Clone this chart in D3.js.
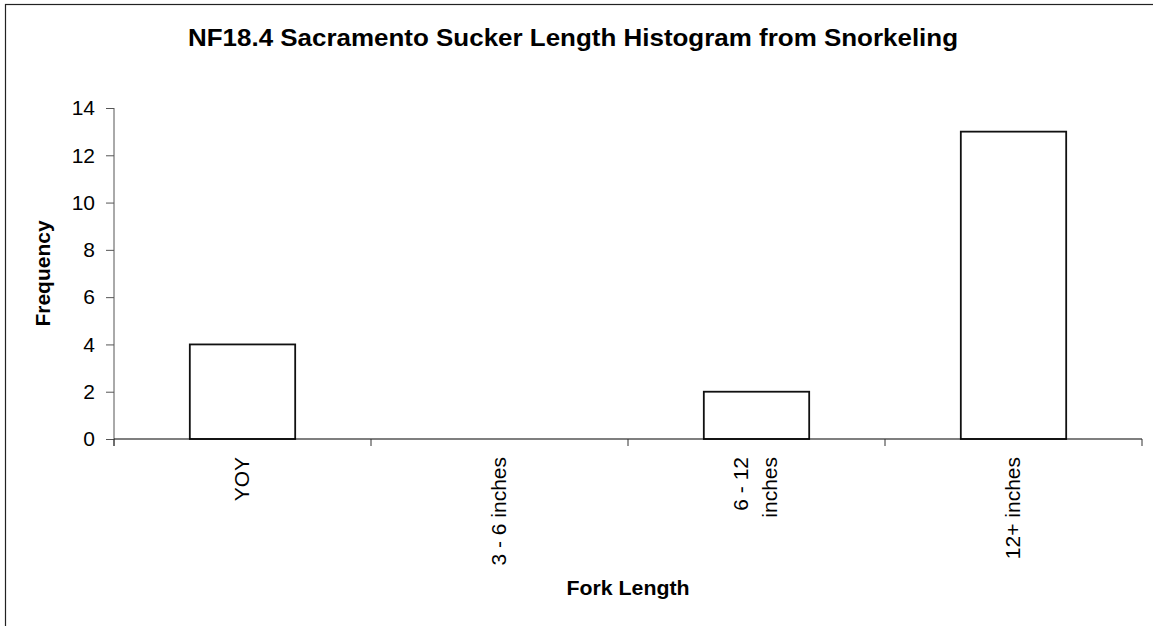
<!DOCTYPE html>
<html>
<head>
<meta charset="utf-8">
<script src="https://cdn.jsdelivr.net/npm/d3@7"></script>
<style>
  html, body { margin: 0; padding: 0; background: #fff; }
  svg { display: block; font-family: "Liberation Sans", Arial, sans-serif; }
</style>
</head>
<body>
<svg id="chart" width="1153" height="626"></svg>
<script>
// Length classes (multi-line labels split by "\n") and counts
const categories = ["YOY", "3 - 6 inches", "6 - 12\ninches", "12+ inches"];
const frequency = [4, 0, 2, 13];
const yTicks = [0, 2, 4, 6, 8, 10, 12, 14];

const titleText = "NF18.4 Sacramento Sucker Length Histogram from Snorkeling";
const xTitle = "Fork Length";
const yTitle = "Frequency";

const svg = d3.select("#chart");

// chart frame
svg.append("rect")
  .attr("x", 5.5).attr("y", 4.5)
  .attr("width", 1170).attr("height", 650)
  .attr("fill", "#fff").attr("stroke", "#222").attr("stroke-width", 1.2);

const plot = { left: 114, right: 1142, top: 108, bottom: 439 };

const x = d3.scaleBand()
  .domain(categories)
  .range([plot.left, plot.right])
  .paddingInner(0.59)
  .paddingOuter(0.295);

const y = d3.scaleLinear()
  .domain([0, 14])
  .range([plot.bottom, plot.top]);

// bars
svg.append("g")
  .selectAll("rect")
  .data(categories.map((c, i) => ({ c, v: frequency[i] })).filter(d => d.v > 0))
  .join("rect")
  .attr("x", d => x(d.c))
  .attr("y", d => y(d.v))
  .attr("width", x.bandwidth())
  .attr("height", d => y(0) - y(d.v))
  .attr("fill", "#fff")
  .attr("stroke", "#111")
  .attr("stroke-width", 1.8);

// y axis
const yAxis = svg.append("g")
  .attr("transform", `translate(${plot.left},0)`)
  .call(d3.axisLeft(y).tickValues(yTicks).tickSize(8).tickPadding(11));
yAxis.select(".domain").attr("stroke", "#555").attr("d", `M0,${plot.top}V${plot.bottom + 7}`);
yAxis.selectAll(".tick line").attr("stroke", "#555");
yAxis.selectAll(".tick text")
  .attr("font-size", 21)
  .attr("font-family", "Liberation Sans, Arial, sans-serif")
  .attr("fill", "#000");

// x axis: tick marks at band boundaries
const step = x.step();
const boundaries = d3.range(categories.length + 1).map(i => plot.left + i * step);
const xg = svg.append("g");
xg.append("line")
  .attr("x1", plot.left).attr("x2", plot.right)
  .attr("y1", plot.bottom).attr("y2", plot.bottom)
  .attr("stroke", "#000").attr("stroke-width", 1.2);
xg.selectAll("line.tk")
  .data(boundaries)
  .join("line")
  .attr("class", "tk")
  .attr("x1", d => d).attr("x2", d => d)
  .attr("y1", plot.bottom).attr("y2", plot.bottom + 7)
  .attr("stroke", "#333");

// rotated category labels
const lineGap = 29;
categories.forEach(c => {
  const lines = c.split("\n");
  const cx = x(c) + x.bandwidth() / 2;
  const t = svg.append("text")
    .attr("transform", `translate(${cx},457) rotate(-90)`)
    .attr("text-anchor", "end")
    .attr("font-size", 21)
    .attr("fill", "#000");
  lines.forEach((ln, i) => {
    const off = (i - (lines.length - 1) / 2) * lineGap;
    t.append("tspan")
      .attr("x", 0)
      .attr("y", off)
      .attr("dy", "0.3em")
      .text(ln);
  });
});

// titles
svg.append("text")
  .attr("x", 573).attr("y", 46)
  .attr("text-anchor", "middle")
  .attr("font-size", 23).attr("font-weight", "bold")
  .attr("textLength", 770).attr("lengthAdjust", "spacingAndGlyphs")
  .text(titleText);

svg.append("text")
  .attr("x", (plot.left + plot.right) / 2).attr("y", 595)
  .attr("text-anchor", "middle")
  .attr("font-size", 21).attr("font-weight", "bold")
  .attr("textLength", 123).attr("lengthAdjust", "spacingAndGlyphs")
  .text(xTitle);

svg.append("text")
  .attr("transform", `translate(50,${(plot.top + plot.bottom) / 2}) rotate(-90)`)
  .attr("text-anchor", "middle")
  .attr("font-size", 21).attr("font-weight", "bold")
  .text(yTitle);
</script>
</body>
</html>
